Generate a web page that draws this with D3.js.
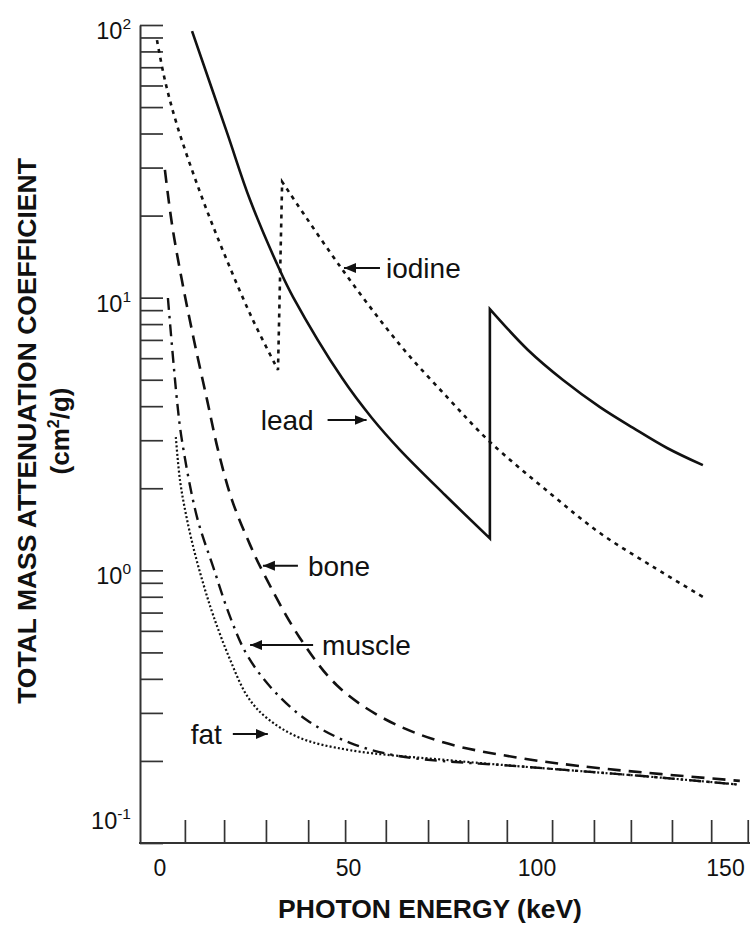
<!DOCTYPE html>
<html><head><meta charset="utf-8">
<script src="https://cdn.jsdelivr.net/npm/d3@7"></script>
<style>
html,body{margin:0;padding:0;background:#fff;}
svg{display:block;}
text{font-family:"Liberation Sans",Arial,Helvetica,sans-serif;fill:#111;}
</style></head>
<body>
<svg id="chart" width="752" height="930"></svg>
<script>
// ---------------- DATA ----------------
const xTickLabels = [0, 50, 100, 150];
const xMinorTicks = [6.6, 17.0, 28.1, 39.3, 49.1, 59.9, 71.1, 81.7, 92.0, 104.0, 115.1, 124.9, 135.8, 146.2, 155.9];
const yDecadeLabels = [0.1, 1, 10, 100];

// lead: two pieces split at the K-edge
const leadKeV1 = [8.5, 17.8, 23.9, 31.8, 35.3, 48.3, 56.2, 63.7, 75.6, 87.5];
const leadVal1 = [95, 40.2, 22.8, 12.6, 10.05, 5.07, 3.62, 2.76, 1.889, 1.31];
const leadKeV2 = [87.5, 97.6, 106.9, 116.7, 125.5, 134.5, 144];
const leadVal2 = [9.08, 6.43, 4.99, 3.97, 3.33, 2.81, 2.43];

// iodine: two pieces split at the K-edge
const iodineKeV1 = [-0.8, 1.3, 4.5, 10.6, 17.2, 24.4, 31.3];
const iodineVal1 = [88, 62.8, 43.0, 24.4, 14.3, 8.42, 5.43];
const iodineKeV2 = [32.4, 47.7, 63.7, 76.9, 87.5, 103.4, 116.7, 130.8, 144.6];
const iodineVal2 = [26.6, 13.06, 6.70, 4.21, 2.96, 1.92, 1.37, 1.03, 0.79];

const boneKeV = [1.3, 3.2, 5.8, 9.0, 12.5, 15.4, 19.1, 23.9, 27.3, 37.1, 46.9, 59.2, 75.1, 95.5, 116.7, 153.8];
const boneVal = [29.4, 18.5, 11.6, 7.0, 4.21, 2.76, 1.81, 1.24, 0.986, 0.565, 0.379, 0.287, 0.234, 0.205, 0.188, 0.169];

const muscleKeV = [2.1, 4.5, 5.8, 9.8, 14.1, 18.6, 23.1, 30, 39, 50.4, 63.7, 95.5, 128, 153];
const muscleVal = [9.97, 4.21, 3.01, 1.57, 1.03, 0.675, 0.489, 0.364, 0.282, 0.233, 0.208, 0.191, 0.176, 0.164];

const fatKeV = [4.2, 5.3, 6.9, 9.0, 11.4, 14.1, 18.3, 23.3, 28.4, 37.1, 50.4, 76.9, 95.5, 128, 153];
const fatVal = [3.08, 2.14, 1.60, 1.19, 0.90, 0.685, 0.481, 0.343, 0.287, 0.243, 0.219, 0.201, 0.191, 0.176, 0.164];

// annotations: arrow tip anchored at data coordinates
const annLabels = ["iodine", "lead", "bone", "muscle", "fat"];
const annKeV = [48.8, 54.8, 27.3, 23.9, 28.6];
const annValue = [12.85, 3.56, 1.04, 0.532, 0.251];

// ---------------- STYLE / LAYOUT ----------------
const annStyle = {
  side: ["right", "left", "right", "right", "left"], // where the text is
  len: [36, 39, 35, 63, 35],
  gap: [6, 14, 10, 9, 11]
};
const axisLeftX = 140, axisRightX = 750;
const plotTop = 25, plotBottom = 843;
const ink = "#111", axisInk = "#333";

const svg = d3.select("#chart");
svg.append("rect").attr("width", 752).attr("height", 930).attr("fill", "#fff");

const x = d3.scaleLinear().domain([0, 150]).range([160, 725.5]);
const y = d3.scaleLog().domain([0.1, 100]).range([plotBottom, plotTop]);

// defs: arrowhead
svg.append("defs").append("marker")
  .attr("id", "arr").attr("markerUnits", "userSpaceOnUse")
  .attr("markerWidth", 14).attr("markerHeight", 12)
  .attr("refX", 12).attr("refY", 5).attr("orient", "auto")
  .append("path").attr("d", "M0,0 L12,5 L0,10 Z").attr("fill", ink);

// ---------------- AXES ----------------
const gy = svg.append("g").attr("transform", `translate(${axisLeftX},0)`)
  .call(d3.axisLeft(y).tickValues(y.ticks()).tickSize(-23).tickSizeOuter(0).tickFormat(""));
gy.select(".domain").attr("stroke", axisInk).attr("stroke-width", 2);
gy.selectAll(".tick line").attr("stroke", axisInk).attr("stroke-width", 1.7);

const gx = svg.append("g").attr("transform", `translate(0,${plotBottom})`)
  .call(d3.axisBottom(x).tickValues(xMinorTicks).tickSize(-23).tickSizeOuter(0).tickFormat(""));
gx.select(".domain").remove();
gx.selectAll(".tick line").attr("stroke", axisInk).attr("stroke-width", 1.7);
svg.append("line").attr("x1", axisLeftX - 1).attr("x2", axisRightX)
  .attr("y1", plotBottom).attr("y2", plotBottom)
  .attr("stroke", axisInk).attr("stroke-width", 2);

// x tick labels
svg.append("g").selectAll("text").data(xTickLabels).join("text")
  .attr("x", d => x(d)).attr("y", 876)
  .attr("text-anchor", "middle").attr("font-size", 23)
  .text(d => d);

// y decade labels with superscript exponents
const yl = svg.append("g").selectAll("text").data(yDecadeLabels).join("text")
  .attr("x", 131)
  .attr("y", d => {
    const py = y(d) + 14;
    return (py > plotBottom - 5) ? y(d) - 14 : py;
  })
  .attr("text-anchor", "end").attr("font-size", 23.5);
yl.append("tspan").text("10");
yl.append("tspan").attr("dy", -10).attr("font-size", 15.5).text(d => String(Math.round(Math.log10(d))));

// axis titles
svg.append("text").attr("x", 430).attr("y", 918)
  .attr("text-anchor", "middle").attr("font-size", 26.5).attr("font-weight", "bold")
  .text("PHOTON ENERGY (keV)");
const yt = svg.append("g").attr("transform", "translate(36,431) rotate(-90)");
yt.append("text").attr("text-anchor", "middle").attr("font-size", 26.5).attr("font-weight", "bold")
  .text("TOTAL MASS ATTENUATION COEFFICIENT");
const yt2 = yt.append("text").attr("y", 33).attr("text-anchor", "middle")
  .attr("font-size", 26).attr("font-weight", "bold");
yt2.append("tspan").text("(cm");
yt2.append("tspan").attr("dy", -10).attr("font-size", 16).text("2");
yt2.append("tspan").attr("dy", 10).text("/g)");

// ---------------- CURVES ----------------
const line = d3.line().x(d => x(d[0])).y(d => y(d[1])).curve(d3.curveCatmullRom.alpha(0.5));
const zip = (a, b) => a.map((v, i) => [v, b[i]]);
function joined(...pieces) {
  return pieces.map((p, i) => {
    const s = line(p);
    return i === 0 ? s : "L" + s.slice(1);
  }).join("");
}

const series = [
  { d: joined(zip(leadKeV1, leadVal1), zip(leadKeV2, leadVal2)), dash: null, w: 2.6 },
  { d: joined(zip(iodineKeV1, iodineVal1), zip(iodineKeV2, iodineVal2)), dash: "4,5", w: 2.6 },
  { d: line(zip(boneKeV, boneVal)), dash: "13,8", w: 2.6 },
  { d: line(zip(muscleKeV, muscleVal)), dash: "12,6,2.5,6", w: 2.4 },
  { d: line(zip(fatKeV, fatVal)), dash: "2,2.2", w: 2.2 }
];
svg.append("g").selectAll("path").data(series).join("path")
  .attr("d", d => d.d).attr("fill", "none").attr("stroke", ink)
  .attr("stroke-width", d => d.w)
  .attr("stroke-dasharray", d => d.dash)
  .attr("stroke-linejoin", "miter");

// ---------------- ANNOTATIONS ----------------
const ann = svg.append("g");
annLabels.forEach((lab, i) => {
  const tx = x(annKeV[i]), ty = y(annValue[i]);
  const side = annStyle.side[i], len = annStyle.len[i], gap = annStyle.gap[i];
  const tailX = side === "right" ? tx + len : tx - len;
  ann.append("line").attr("x1", tailX).attr("y1", ty).attr("x2", tx).attr("y2", ty)
    .attr("stroke", ink).attr("stroke-width", 2).attr("marker-end", "url(#arr)");
  ann.append("text")
    .attr("x", side === "right" ? tailX + gap : tailX - gap)
    .attr("y", ty + 10)
    .attr("text-anchor", side === "right" ? "start" : "end")
    .attr("font-size", 28)
    .text(lab);
});
</script>
</body></html>
